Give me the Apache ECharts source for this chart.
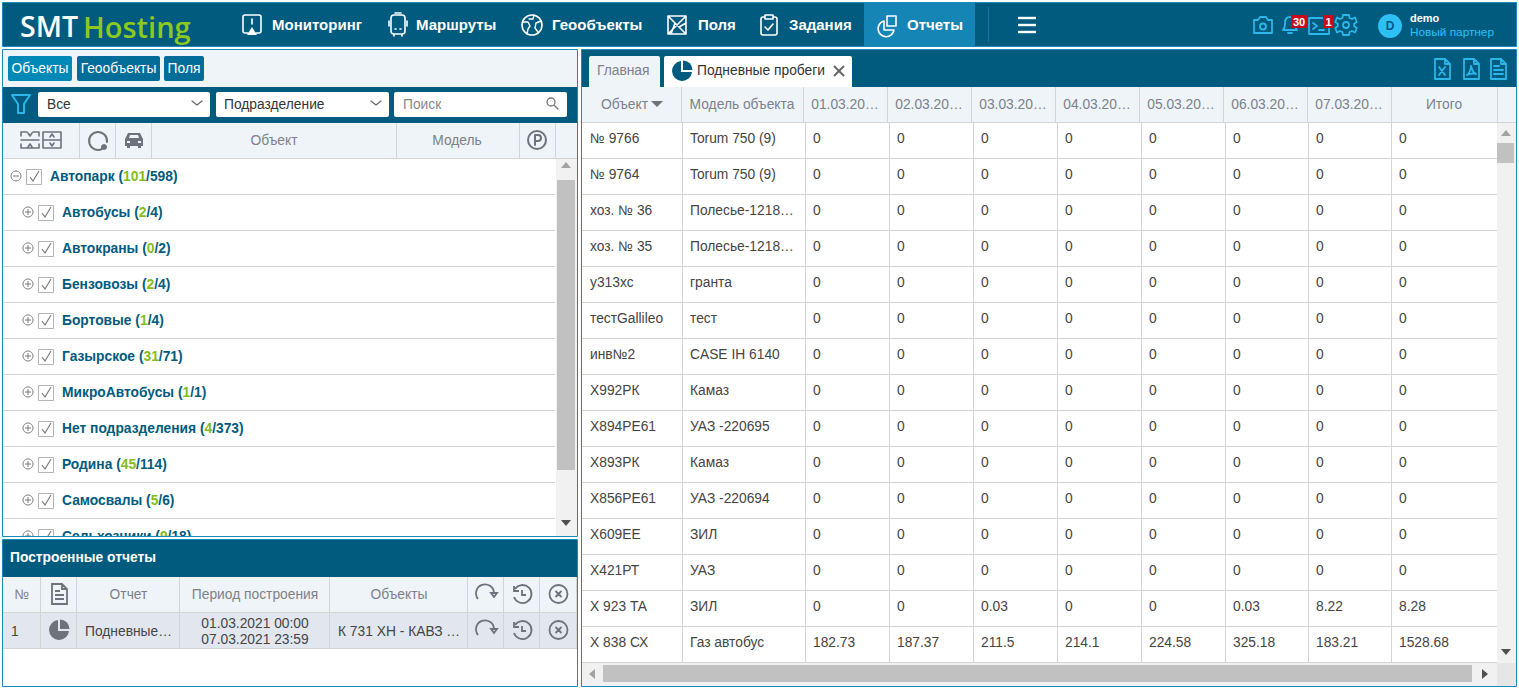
<!DOCTYPE html>
<html>
<head>
<meta charset="utf-8">
<title>Подневные пробеги</title>
<style>html,body{margin:0;padding:0;background:#fff}#main{width:1519px;height:689px}</style>
<script src="https://cdn.jsdelivr.net/npm/echarts@6/dist/echarts.min.js"></script>
</head>
<body>
<div id="main"></div>
<script>
// данные таблицы пробегов
var objectNames = ['№ 9766','№ 9764','хоз. № 36','хоз. № 35','у313хс','тестGallileo','инв№2','Х992РК','Х894РЕ61','Х893РК','Х856РЕ61','Х609ЕЕ','Х421РТ','Х 923 ТА','Х 838 СХ'];
var objectModels = ['Torum 750 (9)','Torum 750 (9)','Полесье-1218…','Полесье-1218…','гранта','тест','CASE IH 6140','Камаз','УАЗ -220695','Камаз','УАЗ -220694','ЗИЛ','УАЗ','ЗИЛ','Газ автобус'];
var day01 = [0,0,0,0,0,0,0,0,0,0,0,0,0,0,182.73];
var day02 = [0,0,0,0,0,0,0,0,0,0,0,0,0,0,187.37];
var day03 = [0,0,0,0,0,0,0,0,0,0,0,0,0,0.03,211.5];
var day04 = [0,0,0,0,0,0,0,0,0,0,0,0,0,0,214.1];
var day05 = [0,0,0,0,0,0,0,0,0,0,0,0,0,0,224.58];
var day06 = [0,0,0,0,0,0,0,0,0,0,0,0,0,0.03,325.18];
var day07 = [0,0,0,0,0,0,0,0,0,0,0,0,0,8.22,183.21];
var totals = [0,0,0,0,0,0,0,0,0,0,0,0,0,8.28,1528.68];
var tableHeaders = ['Объект','Модель объекта','01.03.20…','02.03.20…','03.03.20…','04.03.20…','05.03.20…','06.03.20…','07.03.20…','Итого'];

// дерево объектов
var treeNames = ['Автопарк','Автобусы','Автокраны','Бензовозы','Бортовые','Газырское','МикроАвтобусы','Нет подразделения','Родина','Самосвалы','Сельхозники'];
var treeOnline = [101,2,0,2,1,31,1,4,45,5,9];
var treeTotal = [598,4,2,4,4,71,1,373,114,6,18];

// построенные отчеты
var reportHeaders = ['№','','Отчет','Период построения','Объекты'];
var reportRow = ['1','','Подневные…','01.03.2021 00:00\n07.03.2021 23:59','К 731 ХН - КАВЗ …'];

var navItems = ['Мониторинг','Маршруты','Геообъекты','Поля','Задания','Отчеты'];
var subTabs = ['Объекты','Геообъекты','Поля'];

// размеры колонок, px
var tableColWidths = [101,123,84,84,84,84,84,83,83,105];
var headColWidths = [99,122,84,84,84,84,84,84,84,106];
var reportColWidths = [38,36,103,150,138,36,36,37];

var DARK = '#015b7e', LINE = '#d4d4d4', HEAD = '#eff4f8', GREY = '#7c8189', TXT = '#444', BLUE = '#2cb5e8', BORDER = '#1a8ab8', ICON = '#6d727c';
var FONT = '"Liberation Sans", Arial, sans-serif';
var SIZE = 13.8;
var g = [];
var iconList = [];

function rect(x, y, w, h, fill, stroke, r) {
    g.push({type:'rect', shape:{x:x, y:y, width:w, height:h, r:r||0}, style:{fill:fill, stroke:stroke||null, lineWidth:1}, silent:true});
}
function line(x1, y1, x2, y2, color, w) {
    g.push({type:'line', shape:{x1:x1, y1:y1, x2:x2, y2:y2}, style:{stroke:color, lineWidth:w||1}, silent:true});
}
function txt(x, y, text, fill, size, weight, align) {
    g.push({type:'text', style:{x:x, y:y, text:text, fill:fill, font:(weight||'normal')+' '+size+'px '+FONT, align:align||'left', verticalAlign:'middle'}, silent:true});
}
function icon(x, y, path, stroke, w, fill) {
    iconList.push({x:x, y:y, path:path, stroke:stroke||null, w:w||1.6, fill:fill||'none'});
}

// иконки, координаты от центра
var P = {
    monitor:'M-4 9H-7a2 2 0 0 1-2-2V-7a2 2 0 0 1 2-2H7a2 2 0 0 1 2 2V7a2 2 0 0 1-2 2H4M0 -5V0',
    monitorTip:'M0 3L5 11H-5Z',
    bus:'M-7 -7a3 3 0 0 1 3-3H4a3 3 0 0 1 3 3V6a3 3 0 0 1-3 3H-4a3 3 0 0 1-3-3ZM-3 -12H3M-4 9V11M4 9V11M-9 -4V1M9 -4V1M-3 4H-2M2 4H3',
    globe:'M-10 0a10 10 0 1 0 20 0a10 10 0 1 0-20 0',
    globeLand:'M-9 -3L-4 -3L-2 1L-4 4L-5 9M2 -10L1 -6L-3 -6M9 -4L4 -2L3 3L6 7',
    field:'M-9 -9H9V9H-9ZM-9 -9L9 9M9 -9L-9 9M-2 -2L-6 9M2 2L9 -2',
    task:'M-4 -8H-6a2 2 0 0 0-2 2V8a2 2 0 0 0 2 2H6a2 2 0 0 0 2-2V-6a2 2 0 0 0-2-2H4M-4 -10H4V-6H-4ZM-4 2L-1 5L4 -1',
    report:'M-3 -4A8 8 0 1 0 7 5H-3ZM0 -9H9V1H0Z',
    camera:'M-9 -5H-5L-3 -8H3L5 -5H9V8H-9ZM-3 1.5a3 3 0 1 0 6 0a3 3 0 1 0-6 0',
    bell:'M-7 5C-5 3-5 1-5 -2C-5 -6-3 -8 0 -8C3 -8 5 -6 5 -2C5 1 5 3 7 5ZM-2 8H2',
    term:'M-10 -8H10V8H-10ZM-6 -3L-2 0L-6 3M0 4H5',
    gear:'M-3 -10H3L3.6 -7L6 -6L9 -7.5L10.8 -3L8.2 -1.2V1.2L10.8 3L9 7.5L6 6L3.6 7L3 10H-3L-3.6 7L-6 6L-9 7.5L-10.8 3L-8.2 1.2V-1.2L-10.8 -3L-9 -7.5L-6 -6L-3.6 -7ZM-3 0a3 3 0 1 0 6 0a3 3 0 1 0-6 0',
    funnel:'M-9 -9H9L3 0V9H-3V0Z',
    chev:'M-5 -2L0 2L5 -2',
    search:'M-5 -1a4 4 0 1 0 8 0a4 4 0 1 0-8 0M2 2L6 6',
    xls:'M-7 -10H3L8 -5V10H-7ZM3 -10V-5H8M-3 -2L3 6M3 -2L-3 6',
    pdf:'M-7 -10H3L8 -5V10H-7ZM3 -10V-5H8M-4 6C-1 4 0 -1 0 -3C1 1 3 4 5 5C2 4 -2 5 -4 6Z',
    doc:'M-7 -10H3L8 -5V10H-7ZM3 -10V-5H8M-4 -3H1M-4 1H5M-4 5H5',
    refresh:'M-8 5A9 9 0 1 1 8 -1M5 -1H11L8 3Z',
    history:'M-7 -5A9 9 0 1 1 -8 3M-8 -8V-3H-3M0 -4V1H4',
    closeC:'M-9 0a9 9 0 1 0 18 0a9 9 0 1 0-18 0M-3 -3L3 3M3 -3L-3 3',
    pieA:'M-1 -10A10 10 0 1 0 10 1H-1Z',
    pieB:'M1 -10.5A9.5 9.5 0 0 1 10.5 -1H1Z',
    car:'M-9 -1L-6 -7H6L9 -1V6H7V8H4V6H-4V8H-7V6H-9Z',
    carWin:'M-5 -2L-4 -5H4L5 -2ZM-7 1H-4V3H-7ZM4 1H7V3H4Z',
    park:'M-9 0a9 9 0 1 0 18 0a9 9 0 1 0-18 0M-2 5V-5H1a3 3 0 0 1 0 6H-2',
    ring:'M4 8A9 9 0 1 1 9 1',
    collapse:'M-20 -8H-14M-8 -8H-2M-20 -8V-4M-2 -8V-4M-20 0H-2M-20 4V8H-2V4M-13 -7L-11 -4L-9 -7M-13 7L-11 4L-9 7M2 -8H20V8H2ZM2 0H20M9 -3L11 -6L13 -3M9 3L11 6L13 3'
};

// шапка
rect(2.5, 2.5, 1514, 44, DARK, BORDER);
rect(864, 3, 111, 43, '#1585b5');
line(988.5, 7, 988.5, 42, '#0f78a3');
g.push({type:'text', style:{x:20, y:26, text:'SMT', fill:'#fff', font:'600 28.5px "Open Sans", sans-serif', align:'left', verticalAlign:'middle'}, silent:true});
g.push({type:'text', style:{x:83, y:26, text:'Hosting', fill:'#8cc81e', font:'600 29px "Open Sans", sans-serif', align:'left', verticalAlign:'middle'}, silent:true});
var navX = [272,416,552,698,789,907];
for (var i = 0; i < navItems.length; i++) txt(navX[i], 24, navItems[i], '#fff', 15, 'bold');
icon(252, 24, P.monitor, '#fff', 1.6);
icon(252, 24, P.monitorTip, null, 1, '#fff');
icon(398, 25, P.bus, '#fff', 1.6);
icon(532, 25, P.globe, '#fff', 1.6);
icon(532, 25, P.globeLand, '#fff', 1.4);
icon(677, 25, P.field, '#fff', 1.6);
icon(769, 25, P.task, '#fff', 1.6);
icon(887, 25, P.report, '#fff', 1.6);
line(1018, 18, 1036, 18, '#fff', 2.4);
line(1018, 25, 1036, 25, '#fff', 2.4);
line(1018, 32, 1036, 32, '#fff', 2.4);
icon(1263, 25, P.camera, BLUE, 1.8);
icon(1290, 25, P.bell, BLUE, 1.8);
icon(1319, 26, P.term, BLUE, 1.8);
icon(1346, 25, P.gear, BLUE, 1.8);
g.push({type:'circle', shape:{cx:1390, cy:26, r:12}, style:{fill:'#2cc0f5'}, silent:true});
txt(1390, 26, 'D', DARK, 12, 'bold', 'center');
txt(1410, 18, 'demo', '#fff', 11, 'bold');
txt(1410, 32, 'Новый партнер', '#2cc0f5', 11.8);

// левая панель
rect(2.5, 49.5, 575, 487, '#fff', BORDER);
rect(3, 50, 574, 37, HEAD);
var subX = [8,77,164], subW = [64,83,40];
for (i = 0; i < subTabs.length; i++) {
    rect(subX[i], 56, subW[i], 25, i == 0 ? '#0089b6' : '#016d98', null, 2);
    txt(subX[i] + subW[i] / 2, 68, subTabs[i], '#fff', SIZE, 'normal', 'center');
}
rect(3, 87, 574, 36, DARK);
icon(21, 104, P.funnel, BLUE, 2);
rect(38, 92, 172, 25, '#fff', null, 2);
rect(216, 92, 173, 25, '#fff', null, 2);
rect(394, 92, 173, 25, '#fff', null, 2);
txt(47, 104, 'Все', '#333', SIZE);
txt(224, 104, 'Подразделение', '#333', SIZE);
txt(403, 104, 'Поиск', '#888', SIZE);
icon(197, 103, P.chev, '#666', 1.2);
icon(376, 103, P.chev, '#666', 1.2);
icon(552, 103, P.search, '#777', 1.3);
rect(3, 123, 574, 36, HEAD);
line(3, 158.5, 577, 158.5, LINE);
var leftDiv = [79,115,151,396,519,555];
for (i = 0; i < leftDiv.length; i++) line(leftDiv[i] + .5, 123, leftDiv[i] + .5, 159, LINE);
txt(274, 140, 'Объект', GREY, SIZE, 'normal', 'center');
txt(457, 140, 'Модель', GREY, SIZE, 'normal', 'center');
icon(41, 140, P.collapse, ICON, 1.6);
icon(98, 141, P.ring, ICON, 2);
g.push({type:'circle', shape:{cx:104, cy:147, r:3}, style:{fill:ICON}, silent:true});
icon(134, 140, P.car, null, 1, ICON);
icon(134, 140, P.carWin, null, 1, HEAD);
icon(537, 140, P.park, ICON, 2);
// скролл дерева
rect(556, 159, 21, 377, '#f1f1f1');
rect(557, 180, 18, 290, '#c1c1c1');
g.push({type:'polygon', shape:{points:[[561,168],[571,168],[566,162]]}, style:{fill:'#a3a3a3'}, silent:true});
g.push({type:'polygon', shape:{points:[[561,520],[571,520],[566,526]]}, style:{fill:'#505050'}, silent:true});

// нижняя панель
rect(2.5, 539.5, 575, 147, '#fff', BORDER);
rect(3, 540, 574, 37, DARK);
txt(10, 557, 'Построенные отчеты', '#fff', SIZE, 'bold');

// правая панель
rect(581.5, 49.5, 935, 637, '#fff', BORDER);
rect(582, 50, 934, 37, DARK);
rect(589, 56, 71, 31, HEAD, null, [2,2,0,0]);
rect(664, 56, 188, 31, '#fff', null, [2,2,0,0]);
txt(597, 70, 'Главная', GREY, SIZE);
txt(697, 70, 'Подневные пробеги', '#333', SIZE);
icon(682, 71, P.pieA, null, 1, DARK);
icon(682, 71, P.pieB, null, 1, DARK);
line(834, 66, 844, 76, '#666', 2);
line(844, 66, 834, 76, '#666', 2);
icon(1442, 69, P.xls, BLUE, 1.8);
icon(1471, 69, P.pdf, BLUE, 1.8);
icon(1498, 69, P.doc, BLUE, 1.8);
rect(582, 87, 934, 36, HEAD);
line(582, 122.5, 1516, 122.5, LINE);
var hx = 582;
for (i = 0; i < tableHeaders.length; i++) {
    var cx = hx + headColWidths[i] / 2;
    txt(i == 0 ? cx - 7 : cx, 104, tableHeaders[i], GREY, SIZE, 'normal', 'center');
    hx += headColWidths[i];
    line(hx + .5, 87, hx + .5, 122, LINE);
}
g.push({type:'polygon', shape:{points:[[651,101],[663,101],[657,107]]}, style:{fill:ICON}, silent:true});
// скроллы таблицы
rect(1497, 123, 19, 540, '#f1f1f1');
rect(1497, 143, 17, 20, '#c1c1c1');
g.push({type:'polygon', shape:{points:[[1501,136],[1511,136],[1506,130]]}, style:{fill:'#a3a3a3'}, silent:true});
g.push({type:'polygon', shape:{points:[[1501,649],[1511,649],[1506,655]]}, style:{fill:'#505050'}, silent:true});
rect(582, 663, 934, 23, '#f1f1f1');
rect(603, 665, 869, 17, '#c1c1c1');
rect(1497, 663, 19, 23, '#e6e6e6');
g.push({type:'polygon', shape:{points:[[595,669],[595,679],[589,674]]}, style:{fill:'#a3a3a3'}, silent:true});
g.push({type:'polygon', shape:{points:[[1482,669],[1482,679],[1488,674]]}, style:{fill:'#505050'}, silent:true});

function edges(widths) {
    var e = [0];
    widths.forEach(function (w) { e.push(e[e.length - 1] + w); });
    return e;
}
function cellLines(x0, x1, y0, y1, color) {
    return [
        {type:'line', shape:{x1:x0, y1:y1 - .5, x2:x1, y2:y1 - .5}, style:{stroke:color, lineWidth:1}},
        {type:'line', shape:{x1:x1 - .5, y1:y0, x2:x1 - .5, y2:y1}, style:{stroke:color, lineWidth:1}}
    ];
}

// таблица пробегов
var tableCols = [objectNames, objectModels, day01, day02, day03, day04, day05, day06, day07, totals];
var tableEdges = edges(tableColWidths);
var tableData = [];
tableCols.forEach(function (col, c) {
    col.forEach(function (v, r) { tableData.push([c, r]); });
});
function renderTableCell(params, api) {
    var c = api.value(0), r = api.value(1);
    var a = api.coord([tableEdges[c], r]), b = api.coord([tableEdges[c + 1], r + 1]);
    // в исходнике текст стоит выше середины строки
    var children = [{type:'text', style:{x:a[0] + (c == 0 ? 8 : 7), y:(a[1] + b[1]) / 2 - 3, text:String(tableCols[c][r]), fill:TXT, font:SIZE + 'px ' + FONT, align:'left', verticalAlign:'middle'}}];
    return {type:'group', children:children.concat(c == 9 ? [{type:'line', shape:{x1:a[0], y1:b[1] - .5, x2:b[0], y2:b[1] - .5}, style:{stroke:LINE, lineWidth:1}}] : cellLines(Math.round(a[0]), Math.round(b[0]), a[1], b[1], LINE))};
}

// дерево
var treeData = treeNames.map(function (n, i) { return [i == 0 ? 0 : 1, i]; });
function renderTreeRow(params, api) {
    var lvl = api.value(0), r = api.value(1);
    var a = api.coord([0, r]), b = api.coord([552, r + 1]);
    var cy = (a[1] + b[1]) / 2 - 1, ox = a[0] + lvl * 12;
    var name = treeNames[r];
    var ico = [{type:'circle', shape:{cx:ox + 13, cy:cy, r:5}, style:{fill:'none', stroke:'#777', lineWidth:1}},
        {type:'line', shape:{x1:ox + 10, y1:cy, x2:ox + 16, y2:cy}, style:{stroke:'#777', lineWidth:1}}];
    if (lvl) ico.push({type:'line', shape:{x1:ox + 13, y1:cy - 3, x2:ox + 13, y2:cy + 3}, style:{stroke:'#777', lineWidth:1}});
    return {type:'group', children:ico.concat([
        {type:'rect', shape:{x:ox + 23.5, y:cy - 6.5, width:15, height:15}, style:{fill:'#fff', stroke:'#b4b4b4', lineWidth:1}},
        {type:'polyline', shape:{points:[[ox + 27, cy + 1], [ox + 30, cy + 5], [ox + 36, cy - 5]]}, style:{fill:'none', stroke:'#777', lineWidth:1.1}},
        {type:'text', style:{x:ox + 47, y:cy, text:'{a|' + name + ' (}{b|' + treeOnline[r] + '}{a|/' + treeTotal[r] + ')}', align:'left', verticalAlign:'middle',
            rich:{a:{fill:DARK, font:'bold ' + SIZE + 'px ' + FONT}, b:{fill:'#84bd1a', font:'bold ' + SIZE + 'px ' + FONT}}}},
        {type:'line', shape:{x1:a[0], y1:b[1] - .5, x2:b[0], y2:b[1] - .5}, style:{stroke:LINE, lineWidth:1}}
    ])};
}

// таблица отчетов: строка 0 - заголовок, строка 1 - данные
var reportEdges = edges(reportColWidths);
var reportData = [];
reportColWidths.forEach(function (w, c) { reportData.push([c, 0]); reportData.push([c, 1]); });
var reportIcons = {5:P.refresh, 6:P.history, 7:P.closeC};
function renderReportCell(params, api) {
    var c = api.value(0), r = api.value(1);
    var a = api.coord([reportEdges[c], r]), b = api.coord([reportEdges[c + 1], r + 1]);
    var cy = (a[1] + b[1]) / 2, cx = (a[0] + b[0]) / 2;
    var kids = [{type:'rect', shape:{x:a[0], y:a[1], width:b[0] - a[0], height:b[1] - a[1]}, style:{fill:r ? '#e2e7ef' : HEAD}}];
    kids = kids.concat(cellLines(a[0], b[0], a[1], b[1], LINE));
    var text = (r ? reportRow : reportHeaders)[c];
    if (text) {
        var left = r && (c == 0 || c == 2 || c == 4);
        kids.push({type:'text', style:{x:left ? a[0] + 8 : cx, y:r ? cy : cy - 1, text:text, fill:r ? TXT : GREY, font:SIZE + 'px ' + FONT, lineHeight:16, align:left ? 'left' : 'center', verticalAlign:'middle'}});
    }
    var path = reportIcons[c] || (c == 1 ? (r ? null : P.doc) : null);
    if (path) kids.push({type:'path', x:cx, y:cy - 1, shape:{pathData:path}, style:{fill:'none', stroke:ICON, lineWidth:1.8}});
    if (c == 1 && r) {
        kids.push({type:'path', x:cx, y:cy - 1, shape:{pathData:P.pieA}, style:{fill:ICON}});
        kids.push({type:'path', x:cx, y:cy - 1, shape:{pathData:P.pieB}, style:{fill:ICON}});
    }
    return {type:'group', children:kids};
}

// иконки интерфейса и красные счетчики поверх них
function renderIcon(params) {
    var it = iconList[params.dataIndex];
    return {type:'path', x:it.x, y:it.y, shape:{pathData:it.path}, style:{fill:it.fill, stroke:it.stroke, lineWidth:it.w, lineCap:'round', lineJoin:'round'}};
}
var badges = [
    {x:1291, w:16, text:'30'},
    {x:1323, w:11, text:'1'}
];
function renderBadge(params) {
    var b = badges[params.dataIndex];
    return {type:'group', children:[
        {type:'rect', shape:{x:b.x, y:15, width:b.w, height:13}, style:{fill:'#c80d1a'}},
        {type:'text', style:{x:b.x + b.w / 2, y:22, text:b.text, fill:'#fff', font:'bold 11px ' + FONT, align:'center', verticalAlign:'middle'}}
    ]};
}

function hiddenAxis(index, min, max, inverse) {
    return {type:'value', gridIndex:index, min:min, max:max, inverse:!!inverse, show:false};
}

var chart = echarts.init(document.getElementById('main'), null, {renderer:'svg'});
chart.setOption({
    animation:false,
    backgroundColor:'#fff',
    graphic:{elements:g},
    grid:[
        {left:582, top:123, width:915, height:540},
        {left:3, top:159, width:552, height:377},
        {left:3, top:577, width:574, height:72}
    ],
    xAxis:[hiddenAxis(0, 0, 915), hiddenAxis(1, 0, 552), hiddenAxis(2, 0, 574)],
    yAxis:[hiddenAxis(0, 0, 15, true), hiddenAxis(1, 0, 377 / 36, true), hiddenAxis(2, 0, 2, true)],
    series:[
        {type:'custom', xAxisIndex:0, yAxisIndex:0, silent:true, data:tableData, renderItem:renderTableCell, clip:true},
        {type:'custom', xAxisIndex:1, yAxisIndex:1, silent:true, data:treeData, renderItem:renderTreeRow, clip:true},
        {type:'custom', xAxisIndex:2, yAxisIndex:2, silent:true, data:reportData, renderItem:renderReportCell},
        {type:'custom', coordinateSystem:'none', silent:true, z:5, data:iconList.map(function (it, i) { return [i]; }), renderItem:renderIcon},
        {type:'custom', coordinateSystem:'none', silent:true, z:6, data:badges.map(function (it, i) { return [i]; }), renderItem:renderBadge}
    ]
});
</script>
</body>
</html>
